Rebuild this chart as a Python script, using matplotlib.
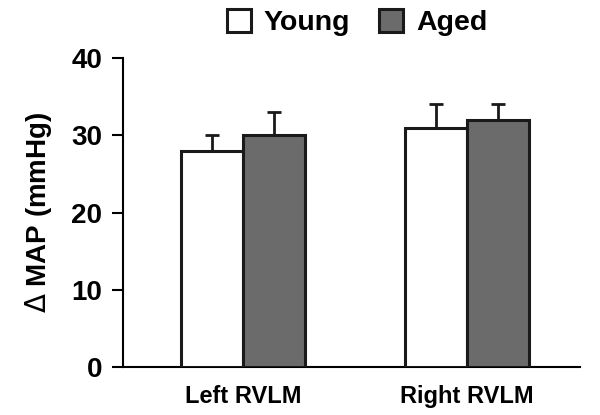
import matplotlib
matplotlib.use("Agg")
import matplotlib.pyplot as plt
from matplotlib.patches import Patch
import numpy as np

categories = ["Left RVLM", "Right RVLM"]
groups = ["Young", "Aged"]
young = [28, 31]
aged = [30, 32]
young_err = [2, 3]
aged_err = [3, 2]
yticks = [0, 10, 20, 30, 40]

plt.rcParams['font.family'] = ['Liberation Sans', 'DejaVu Sans']

fig = plt.figure(figsize=(6, 4.15), dpi=100)
ax = fig.add_axes([0.205, 0.1157, 0.762, 0.7443])

x = np.arange(len(categories))
w = 0.277
colors = ["white", "#6b6b6b"]
for i, (vals, errs) in enumerate([(young, young_err), (aged, aged_err)]):
    pos = x + (i - 0.5) * w
    ax.bar(pos, vals, width=w, color=colors[i], edgecolor="#1a1a1a", linewidth=2.2, zorder=3)
    ax.errorbar(pos, vals, yerr=[np.zeros(len(errs)), errs], fmt="none",
                ecolor="#1a1a1a", elinewidth=2.0, capsize=5, capthick=2.0, zorder=2)

ax.set_xlim(-0.536, 1.504)
ax.set_ylim(0, 40)
ax.set_yticks(yticks)
ax.set_yticklabels([str(t) for t in yticks], fontsize=20, fontweight="bold")
ax.set_xticks(x)
ax.set_xticklabels(categories, fontsize=17, fontweight="bold")
ax.tick_params(axis="x", length=0, pad=13)
ax.tick_params(axis="y", length=8, width=1.5, direction="out", pad=7)
for s in ["top", "right"]:
    ax.spines[s].set_visible(False)
ax.spines["left"].set_linewidth(1.5)
ax.spines["bottom"].set_linewidth(1.5)
ax.set_ylabel(r"$\Delta$ MAP (mmHg)", fontsize=20, fontweight="bold", labelpad=12)

handles = [Patch(facecolor=c, edgecolor="#1a1a1a", linewidth=2.2) for c in colors]
fig.legend(handles, groups, loc="center", bbox_to_anchor=(0.595, 0.945), ncol=2,
           frameon=False, prop={"size": 20.5, "weight": "bold"},
           handlelength=0.85, handleheight=0.85, handletextpad=0.45, columnspacing=1.0,
           borderpad=0.1)

fig.savefig("out.png", dpi=100)
